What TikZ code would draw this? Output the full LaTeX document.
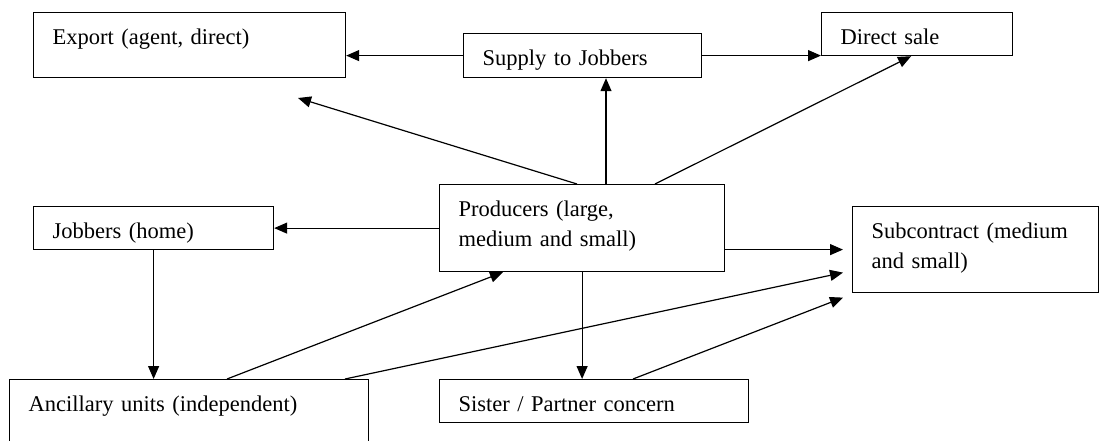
\documentclass[tikz,border=0pt]{standalone}
\usepackage{fontspec}
\setmainfont{Liberation Serif}
\usetikzlibrary{arrows.meta}

\tikzset{
  blk/.style={draw, line width=1.2pt, rectangle, anchor=north west, align=left,
              inner xsep=19pt, inner ysep=0pt, text height=32pt,
              font=\fontsize{22.5}{30}\selectfont},
  arr/.style={-{Triangle[length=13pt,width=11pt]}, line width=1.2pt}
}

\begin{document}
\begin{tikzpicture}[x=1pt,y=-1pt]
                    \useasboundingbox (0,0) rectangle (1099,441);

                    \node[blk, text width=274pt, text depth=33pt] (export) at (33,12) {Export (agent, direct)};
                    \node[blk, text width=200pt, text depth=12pt] (supply) at (463,33) {Supply to Jobbers};
                    \node[blk, text width=153pt, text depth=11pt] (direct) at (821,12) {Direct sale};
                    \node[blk, text width=202pt, text depth=11pt] (jobbers) at (33,206) {Jobbers (home)};
                    \node[blk, text width=247pt, text depth=55pt] (producers) at (439,184) {Producers (large,\\ medium and small)};
                    \node[blk, text width=208pt, text depth=54pt] (subcon) at (852,206) {Subcontract (medium\\ and small)};
                    \node[blk, text width=321pt, text depth=90pt] (ancillary) at (9,379) {Ancillary units (independent)};
                    \node[blk, text width=271pt, text depth=11pt] (sister) at (439,379) {Sister / Partner concern};

                    % points on the borders
                    \coordinate (exporttip) at (298,98);
                    \coordinate (prodA) at ([xshift=138pt]producers.north west);
                    \coordinate (prodB) at ([xshift=167pt]producers.north west);
                    \coordinate (prodC) at ([xshift=216pt]producers.north west);
                    \coordinate (prodR) at ([yshift=-21.5pt]producers.east);
                    \coordinate (prodtip) at ([xshift=64pt]producers.south west);
                    \coordinate (directtip) at ([xshift=-6pt]direct.south);
                    \coordinate (subA) at ([xshift=-9pt]subcon.west);
                    \coordinate (subB) at ([xshift=-9pt,yshift=-23pt]subcon.west);
                    \coordinate (subC) at ([xshift=-9pt,yshift=-48pt]subcon.west);
                    \coordinate (ancA) at ([xshift=218pt]ancillary.north west);
                    \coordinate (ancB) at ([xshift=336pt]ancillary.north west);
                    \coordinate (sisA) at ([xshift=194pt]sister.north west);

                    \draw[arr] (supply.west) -- (supply.west -| export.east);
                    \draw[arr] (supply.east) -- (supply.east -| direct.west);
                    \draw[arr] (prodA) -- (exporttip);
                    \draw[arr] (prodB) -- (prodB |- supply.south);
                    \draw[arr] (prodC) -- (directtip);
                    \draw[arr] (producers.west) -- (producers.west -| jobbers.east);
                    \draw[arr] (prodR) -- (subA);
                    \draw[arr] (producers.south) -- (producers.south |- sister.north);
                    \draw[arr] (jobbers.south) -- (jobbers.south |- ancillary.north);
                    \draw[arr] (ancA) -- (prodtip);
                    \draw[arr] (ancB) -- (subB);
                    \draw[arr] (sisA) -- (subC);

                \end{tikzpicture}
\end{document}
